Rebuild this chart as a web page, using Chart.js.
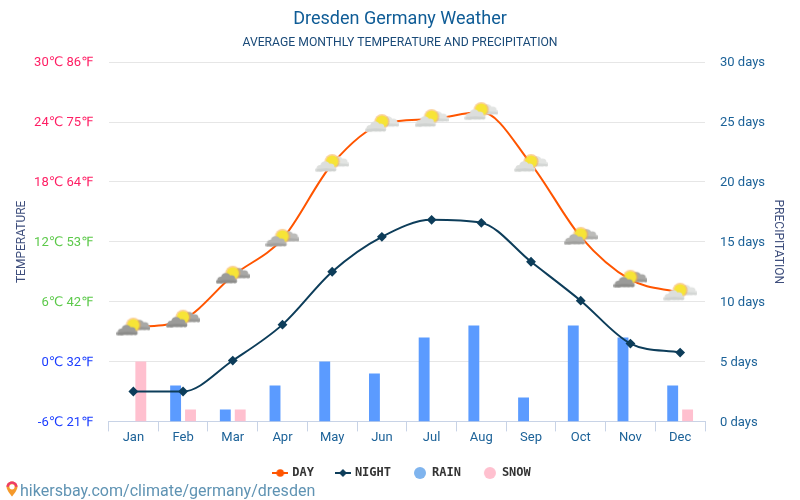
<!DOCTYPE html>
<html><head><meta charset="utf-8">
<style>
html,body{margin:0;padding:0;background:#fff;}
#wrap{position:relative;width:800px;height:500px;overflow:hidden;}
#footer{position:absolute;left:20px;top:481px;font:16.05px Roboto,sans-serif;color:#5f93b3;white-space:nowrap;line-height:20px;}
#pin{position:absolute;left:6px;top:481px;}
</style></head><body>
<div id="wrap">
<canvas id="c" width="800" height="500"></canvas>
<svg id="pin" width="12" height="16" viewBox="0 0 12 16"><path d="M6 0.5C2.8 0.5 0.5 2.9 0.5 5.8 0.5 9.5 6 15.5 6 15.5S11.5 9.5 11.5 5.8C11.5 2.9 9.2 0.5 6 0.5Z" fill="#f59a2c"/><path d="M6 0.5C2.8 0.5 0.5 2.9 0.5 5.8L3 5.8C3 4 4.4 2.8 6 2.8 7.6 2.8 9 4 9 5.8L11.5 5.8C11.5 2.9 9.2 0.5 6 0.5Z" fill="#ee3a6a"/><circle cx="6" cy="5.8" r="2.6" fill="#fff"/></svg>
<div id="footer">hikersbay.com/climate/germany/dresden</div>
</div>
<script src="https://cdn.jsdelivr.net/npm/chart.js@4"></script>
<script>
const categories = ["Jan","Feb","Mar","Apr","May","Jun","Jul","Aug","Sep","Oct","Nov","Dec"];
const dayTemp   = [3.4,4.2,8.6,12.3,19.8,23.8,24.3,25,19.8,12.5,8.2,6.9];
const nightTemp = [-3,-3,0.1,3.7,9,12.5,14.2,13.9,10,6.1,1.8,0.9];
const rainDays  = [0,3,1,3,5,4,7,8,2,8,7,3];
const snowDays  = [5,1,1,0,0,0,0,0,0,0,0,1];
const cloudShade = ["dark","dark","dark","mid","light","light","light","light","light","mid","dark","light"];
const tempTicks = {"-6":"-6℃ 21℉","0":"0℃ 32℉","6":"6℃ 42℉","12":"12℃ 53℉","18":"18℃ 64℉","24":"24℃ 75℉","30":"30℃ 86℉"};
const titleText = "Dresden Germany Weather";
const subtitleText = "AVERAGE MONTHLY TEMPERATURE AND PRECIPITATION";

function cloud(g,x,y,s,col,edge){
  g.fillStyle=col;
  g.beginPath();
  g.arc(x-6*s,y+1*s,3.6*s,0,7);
  g.arc(x-1*s,y-1.5*s,4.8*s,0,7);
  g.arc(x+4.5*s,y,4*s,0,7);
  g.arc(x+8*s,y+1.8*s,2.4*s,0,7);
  g.arc(x-9*s,y+2.4*s,2*s,0,7);
  g.fill();
  g.fillStyle=edge;
  g.beginPath();
  g.ellipse(x,y+2.4*s,10*s,1.7*s,0,0,7);
  g.fill();
}
function weatherIcon(shade){
  const pal={dark:["#9b9b99","#8c8c8a","#a8a8a6","#989896"],mid:["#b4b4b2","#a0a09e","#bcbcba","#acacaa"],light:["#dcdedc","#cfd2d0","#e2e4e2","#d4d7d5"]}[shade];
  const c=document.createElement("canvas");c.width=34;c.height=22;
  const g=c.getContext("2d");
  cloud(g,24,9.5,1,pal[2],pal[3]);
  g.fillStyle="rgba(245,170,70,.55)";
  g.beginPath();g.arc(17,8.5,7.6,0,7);g.fill();
  g.fillStyle="#f7e436";
  g.beginPath();g.arc(17,8.5,6,0,7);g.fill();
  cloud(g,11,14.5,1,pal[0],pal[1]);
  return c;
}
function legendLine(col,diamond){
  const c=document.createElement("canvas");c.width=16;c.height=10;
  const g=c.getContext("2d");
  g.strokeStyle=col;g.lineWidth=2;g.beginPath();g.moveTo(0,5);g.lineTo(16,5);g.stroke();
  g.fillStyle=col;g.beginPath();
  if(diamond){g.moveTo(8,1);g.lineTo(12,5);g.lineTo(8,9);g.lineTo(4,5);g.closePath();}
  else{g.arc(8,5,3.8,0,7);}
  g.fill();
  return c;
}
function legendDot(col){
  const c=document.createElement("canvas");c.width=14;c.height=14;
  const g=c.getContext("2d");g.fillStyle=col;g.beginPath();g.arc(7,7,6,0,7);g.fill();
  return c;
}
const legendIcons=[legendLine("#ff5500",false),legendLine("#0d3d5a",true),legendDot("#7fb4ee"),legendDot("#ffc0cf")];
const legendNames=["DAY","NIGHT","RAIN","SNOW"];

const nudge={id:"nudge",
  afterLayout(chart){chart.legend.left+=5;chart.legend.top-=1;},
  beforeDraw(chart){
    ["y","y2"].forEach(id=>chart.scales[id].getLabelItems().forEach(it=>{it.options.translation[1]+=1;}));
  }
};

new Chart(document.getElementById("c"),{
  type:"bar",
  plugins:[nudge],
  data:{labels:categories,datasets:[
    {type:"line",label:"DAY",data:dayTemp,yAxisID:"y",borderColor:"#ff5500",backgroundColor:"#ff5500",borderWidth:2,cubicInterpolationMode:"monotone",pointStyle:cloudShade.map(weatherIcon),order:0},
    {type:"line",label:"NIGHT",data:nightTemp,yAxisID:"y",borderColor:"#0d3d5a",backgroundColor:"#0d3d5a",borderWidth:2,cubicInterpolationMode:"monotone",pointStyle:"rectRot",pointRadius:3.5,pointHoverRadius:3.5,order:1},
    {type:"bar",label:"RAIN",data:rainDays,yAxisID:"y2",backgroundColor:"#5b9bff",categoryPercentage:0.6,barPercentage:0.73,order:2},
    {type:"bar",label:"SNOW",data:snowDays,yAxisID:"y2",backgroundColor:"#ffc0cf",categoryPercentage:0.6,barPercentage:0.73,order:3}
  ]},
  options:{
    responsive:false,animation:false,
    layout:{padding:{top:0,left:0,right:0,bottom:10}},
    plugins:{
      tooltip:{enabled:false},
      title:{display:true,text:titleText,color:"#0f5c96",font:{family:"Roboto",size:18,weight:"normal"},padding:{top:9,bottom:2}},
      subtitle:{display:true,text:subtitleText,color:"#1a4a78",font:{family:"Roboto",size:12.2,weight:"normal"},padding:{top:3,bottom:12}},
      legend:{position:"bottom",labels:{
        font:{family:"DejaVu Sans Mono",size:12,weight:"bold"},color:"#333",usePointStyle:true,padding:23,
        generateLabels:()=>legendNames.map((t,i)=>({text:t,pointStyle:legendIcons[i],fillStyle:"#000",strokeStyle:"#000",lineWidth:0,hidden:false,datasetIndex:i,fontColor:"#333"}))
      }}
    },
    scales:{
      x:{
        offset:true,
        grid:{display:true,drawOnChartArea:false,drawTicks:true,tickLength:10,color:"#c8d3e6"},
        border:{color:"#c8d3e6"},
        ticks:{color:"#1c6298",font:{family:"Roboto",size:13},padding:-1,maxRotation:0}
      },
      y:{
        position:"left",min:-6,max:30,
        afterFit:s=>{s.width=108.5;},
        grid:{color:"#e6e6e6",drawTicks:false},
        border:{display:false},
        title:{display:true,text:"TEMPERATURE",color:"#3f4f7d",font:{family:"Roboto",size:12},padding:{top:15,bottom:0}},
        ticks:{stepSize:6,padding:15,font:{family:"Roboto, 'DejaVu Sans'",size:13},
          color:c=>c.tick.value>=18?"#ff1e64":(c.tick.value>=6?"#5cc94a":"#1a3cff"),
          callback:v=>tempTicks[v]}
      },
      y2:{
        position:"right",min:0,max:30,
        afterFit:s=>{s.width=95;},
        grid:{display:false,drawTicks:false},
        border:{display:false},
        title:{display:true,text:"PRECIPITATION",color:"#3f4f7d",font:{family:"Roboto",size:12},padding:{top:15,bottom:0}},
        ticks:{stepSize:5,padding:15,color:"#1c6298",font:{family:"Roboto",size:13},callback:v=>v+" days"}
      }
    }
  }
});
</script>
</body></html>
